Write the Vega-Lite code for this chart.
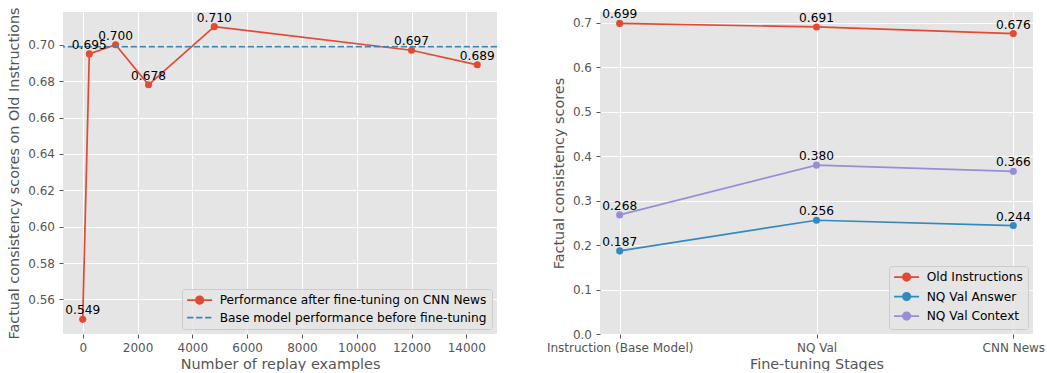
{
  "$schema": "https://vega.github.io/schema/vega-lite/v6.json",
  "padding": {"left": 6, "top": 6, "right": 0, "bottom": 0},
  "background": "#FFFFFF",
  "spacing": 48,
  "config": {
    "font": "DejaVu Sans",
    "view": {"fill": "#E5E5E5", "stroke": null},
    "axis": {
      "domain": false,
      "grid": true,
      "gridColor": "#FFFFFF",
      "gridWidth": 1,
      "gridOpacity": 1,
      "tickColor": "#555555",
      "tickSize": 4,
      "tickWidth": 1,
      "labelColor": "#555555",
      "labelFontSize": 12,
      "labelPadding": 4.5,
      "titleColor": "#555555",
      "titleFontSize": 14.4,
      "titleFontWeight": "normal",
      "titlePadding": 4
    },
    "axisY": {"titlePadding": 6},
    "legend": {
      "orient": "bottom-right",
      "offset": 5.5,
      "padding": 5,
      "fillColor": "rgba(229,229,229,0.8)",
      "strokeColor": "#CCCCCC",
      "cornerRadius": 3,
      "labelFontSize": 12.2,
      "labelColor": "#000000",
      "labelLimit": 400,
      "symbolSize": 100,
      "symbolStrokeWidth": 1.7,
      "symbolOffset": 6.5,
      "labelOffset": 14,
      "rowPadding": 3.5
    }
  },
  "hconcat": [
    {
      "width": 434,
      "height": 322,
      "data": {
        "values": [
          {"replay": 0, "score": 0.549, "series": "Performance after fine-tuning on CNN News"},
          {"replay": 240, "score": 0.695, "series": "Performance after fine-tuning on CNN News"},
          {"replay": 1200, "score": 0.700, "series": "Performance after fine-tuning on CNN News"},
          {"replay": 2400, "score": 0.678, "series": "Performance after fine-tuning on CNN News"},
          {"replay": 4800, "score": 0.710, "series": "Performance after fine-tuning on CNN News"},
          {"replay": 12000, "score": 0.697, "series": "Performance after fine-tuning on CNN News"},
          {"replay": 14400, "score": 0.689, "series": "Performance after fine-tuning on CNN News"}
        ]
      },
      "layer": [
        {
          "mark": {"type": "line", "strokeWidth": 1.7},
          "encoding": {
            "x": {
              "field": "replay", "type": "quantitative",
              "scale": {"domain": [-720, 15120], "nice": false, "zero": false},
              "axis": {"values": [0, 2000, 4000, 6000, 8000, 10000, 12000, 14000], "format": "d", "title": "Number of replay examples"}
            },
            "y": {
              "field": "score", "type": "quantitative",
              "scale": {"domain": [0.54095, 0.71805], "nice": false, "zero": false},
              "axis": {"values": [0.56, 0.58, 0.60, 0.62, 0.64, 0.66, 0.68, 0.70], "format": ".2f", "title": "Factual consistency scores on Old Instructions"}
            },
            "color": {
              "field": "series", "type": "nominal",
              "scale": {
                "domain": ["Performance after fine-tuning on CNN News", "Base model performance before fine-tuning"],
                "range": ["#E24A33", "#348ABD"]
              },
              "legend": {
                "title": null,
                "encode": {
                  "symbols": {
                    "update": {
                      "shape": {"signal": "datum.value == 'Base model performance before fine-tuning' ? 'M-2.5,0H2.5' : 'M-2.5,0H2.5M0.75,0A0.75,0.75,0,1,1,-0.75,0A0.75,0.75,0,1,1,0.75,0Z'"},
                      "stroke": {"signal": "datum.value == 'Base model performance before fine-tuning' ? '#348ABD' : '#E24A33'"},
                      "fill": {"signal": "datum.value == 'Base model performance before fine-tuning' ? '#348ABD' : '#E24A33'"},
                      "strokeDash": {"signal": "datum.value == 'Base model performance before fine-tuning' ? [6.3, 2.7] : [1, 0]"},
                      "opacity": {"value": 1}
                    }
                  }
                }
              }
            }
          }
        },
        {
          "mark": {"type": "point", "filled": true, "size": 50, "opacity": 1},
          "encoding": {
            "x": {"field": "replay", "type": "quantitative"},
            "y": {"field": "score", "type": "quantitative"},
            "color": {"field": "series", "type": "nominal"}
          }
        },
        {
          "data": {"values": [{"score": 0.699, "series": "Base model performance before fine-tuning"}]},
          "mark": {"type": "rule", "strokeWidth": 1.7, "strokeDash": [6.3, 2.7]},
          "encoding": {
            "y": {"field": "score", "type": "quantitative"},
            "color": {"field": "series", "type": "nominal"}
          }
        },
        {
          "mark": {"type": "text", "baseline": "alphabetic", "align": "center", "dy": -5, "fontSize": 12.2, "color": "#000000"},
          "encoding": {
            "x": {"field": "replay", "type": "quantitative"},
            "y": {"field": "score", "type": "quantitative"},
            "text": {"field": "score", "type": "quantitative", "format": ".3f"}
          }
        }
      ]
    },
    {
      "width": 433,
      "height": 322,
      "data": {
        "values": [
          {"stage": "Instruction (Base Model)", "series": "Old Instructions", "score": 0.699},
          {"stage": "NQ Val", "series": "Old Instructions", "score": 0.691},
          {"stage": "CNN News", "series": "Old Instructions", "score": 0.676},
          {"stage": "Instruction (Base Model)", "series": "NQ Val Answer", "score": 0.187},
          {"stage": "NQ Val", "series": "NQ Val Answer", "score": 0.256},
          {"stage": "CNN News", "series": "NQ Val Answer", "score": 0.244},
          {"stage": "Instruction (Base Model)", "series": "NQ Val Context", "score": 0.268},
          {"stage": "NQ Val", "series": "NQ Val Context", "score": 0.380},
          {"stage": "CNN News", "series": "NQ Val Context", "score": 0.366}
        ]
      },
      "encoding": {
        "x": {
          "field": "stage", "type": "nominal",
          "sort": ["Instruction (Base Model)", "NQ Val", "CNN News"],
          "scale": {"type": "point", "padding": 0.1},
          "axis": {"labelAngle": 0, "title": "Fine-tuning Stages", "grid": true}
        },
        "y": {
          "field": "score", "type": "quantitative",
          "scale": {"domain": [0, 0.7246], "nice": false, "zero": false},
          "axis": {"values": [0, 0.1, 0.2, 0.3, 0.4, 0.5, 0.6, 0.7], "format": ".1f", "title": "Factual consistency scores"}
        }
      },
      "layer": [
        {
          "mark": {"type": "line", "strokeWidth": 1.7},
          "encoding": {
            "color": {
              "field": "series", "type": "nominal",
              "scale": {
                "domain": ["Old Instructions", "NQ Val Answer", "NQ Val Context"],
                "range": ["#E24A33", "#348ABD", "#988ED5"]
              },
              "legend": {
                "title": null,
                "encode": {
                  "symbols": {
                    "update": {
                      "shape": {"value": "M-2.5,0H2.5M0.75,0A0.75,0.75,0,1,1,-0.75,0A0.75,0.75,0,1,1,0.75,0Z"},
                      "stroke": {"signal": "datum.value == 'Old Instructions' ? '#E24A33' : datum.value == 'NQ Val Answer' ? '#348ABD' : '#988ED5'"},
                      "fill": {"signal": "datum.value == 'Old Instructions' ? '#E24A33' : datum.value == 'NQ Val Answer' ? '#348ABD' : '#988ED5'"},
                      "opacity": {"value": 1}
                    }
                  }
                }
              }
            }
          }
        },
        {
          "mark": {"type": "point", "filled": true, "size": 50, "opacity": 1},
          "encoding": {"color": {"field": "series", "type": "nominal"}}
        },
        {
          "mark": {"type": "text", "baseline": "alphabetic", "align": "center", "dy": -5, "fontSize": 12.2, "color": "#000000"},
          "encoding": {"text": {"field": "score", "type": "quantitative", "format": ".3f"}}
        }
      ]
    }
  ],
  "resolve": {"scale": {"color": "independent"}, "legend": {"color": "independent"}}
}
